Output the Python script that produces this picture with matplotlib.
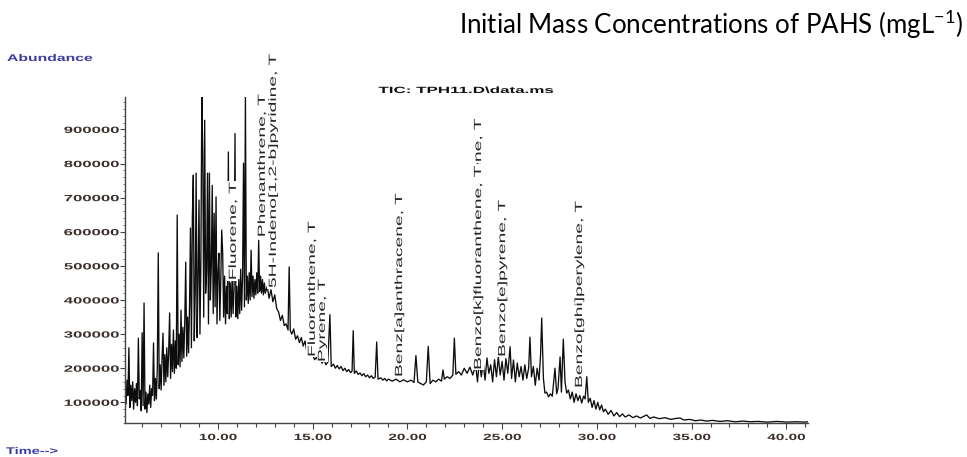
import matplotlib
matplotlib.use('Agg')
import matplotlib.pyplot as plt
from matplotlib.patheffects import AbstractPathEffect
from matplotlib.path import Path
from matplotlib.transforms import Affine2D
from matplotlib.ticker import FixedLocator, MultipleLocator
import numpy as np

# retention time (min) and abundance (x1000 counts)
rt_front = [
    5.10, 5.15, 5.20, 5.25, 5.30, 5.35, 5.40, 5.45, 5.50, 5.55,
    5.60, 5.65, 5.70, 5.75, 5.80, 5.85, 5.90, 5.95, 6.00, 6.05,
    6.10, 6.15, 6.20, 6.25, 6.30, 6.35, 6.40, 6.45, 6.50, 6.55,
    6.60, 6.65, 6.70, 6.75, 6.80, 6.85, 6.90, 6.95, 7.00, 7.05,
    7.10, 7.15, 7.20, 7.25, 7.30, 7.35, 7.40, 7.45, 7.50, 7.55,
    7.60, 7.65, 7.70, 7.75, 7.80, 7.85, 7.90, 7.95, 8.00, 8.05,
    8.10, 8.15, 8.20, 8.25, 8.30, 8.35, 8.40, 8.45, 8.50, 8.55,
    8.60, 8.65, 8.70, 8.75, 8.80, 8.85, 8.90, 8.95, 9.00, 9.05,
    9.10, 9.15, 9.20, 9.25, 9.30, 9.35, 9.40, 9.45, 9.50, 9.55,
    9.60, 9.65, 9.70, 9.75, 9.80, 9.85, 9.90, 9.95, 10.00, 10.05,
    10.10, 10.15, 10.20, 10.25, 10.30, 10.35, 10.40, 10.45, 10.50, 10.55,
    10.60, 10.65, 10.70, 10.75, 10.80, 10.85, 10.90, 10.95, 11.00, 11.05,
    11.10, 11.15, 11.20, 11.25, 11.30, 11.35, 11.40, 11.45, 11.50, 11.55,
    11.60, 11.65, 11.70, 11.75, 11.80, 11.85, 11.90, 11.95, 12.00, 12.05,
    12.10, 12.15, 12.20, 12.25, 12.30, 12.35, 12.40, 12.45, 12.50,
]
ab_front = [
    150, 95, 165, 120, 260, 85, 150, 105, 160, 80,
    140, 100, 155, 90, 288, 110, 135, 75, 304, 90,
    391, 80, 130, 70, 125, 95, 150, 85, 140, 120,
    274, 105, 170, 110, 200, 538, 140, 210, 136, 230,
    303, 150, 240, 160, 260, 175, 250, 362, 170, 270,
    190, 312, 185, 280, 200, 649, 210, 300, 204, 370,
    220, 320, 230, 340, 511, 235, 350, 245, 380, 611,
    260, 644, 766, 280, 420, 772, 290, 460, 693, 300,
    520, 1000, 824, 350, 927, 420, 480, 772, 330, 772,
    400, 500, 736, 360, 654, 380, 702, 330, 480, 537,
    340, 460, 605, 537, 350, 470, 330, 440, 360, 834,
    345, 450, 350, 470, 360, 430, 888, 350, 440, 345,
    460, 360, 490, 370, 470, 801, 380, 1000, 400, 470,
    390, 480, 400, 546, 410, 470, 405, 460, 415, 480,
    420, 575, 425, 470, 420, 460, 415, 450, 420,
]
rt_tail = [
    12.60, 12.70, 12.80, 12.90, 13.00, 13.10, 13.20, 13.30, 13.40, 13.50,
    13.60, 13.70, 13.76, 13.82, 13.90, 14.00, 14.10, 14.20, 14.30, 14.40,
    14.50, 14.60, 14.70, 14.80, 14.90, 15.00, 15.10, 15.20, 15.30, 15.40,
    15.50, 15.60, 15.70, 15.80, 15.91, 15.98, 16.10, 16.20, 16.30, 16.40,
    16.50, 16.60, 16.70, 16.80, 16.90, 17.00, 17.08, 17.14, 17.20, 17.30,
    17.40, 17.50, 17.60, 17.70, 17.80, 17.90, 18.00, 18.10, 18.20, 18.30,
    18.38, 18.45, 18.60, 18.70, 18.80, 18.90, 19.00, 19.20, 19.40, 19.60,
    19.80, 20.00, 20.20, 20.35, 20.45, 20.55, 20.70, 20.85, 21.00, 21.10,
    21.20, 21.35, 21.50, 21.65, 21.80, 21.88, 21.95, 22.10, 22.25, 22.40,
    22.48, 22.56, 22.70, 22.85, 23.00, 23.15, 23.30, 23.45, 23.60, 23.70,
    23.80, 23.90, 24.00, 24.10, 24.20, 24.30, 24.40, 24.50, 24.60, 24.70,
    24.80, 24.90, 25.00, 25.10, 25.20, 25.30, 25.42, 25.50, 25.60, 25.70,
    25.80, 25.90, 26.00, 26.10, 26.20, 26.30, 26.40, 26.47, 26.55, 26.65,
    26.75, 26.85, 26.95, 27.03, 27.09, 27.18, 27.26, 27.35, 27.45, 27.55,
    27.65, 27.79, 27.88, 27.95, 28.06, 28.13, 28.23, 28.32, 28.41, 28.50,
    28.60, 28.70, 28.80, 28.90, 29.00, 29.10, 29.20, 29.30, 29.38, 29.47,
    29.55, 29.65, 29.75, 29.85, 29.95, 30.05, 30.15, 30.25, 30.35, 30.45,
    30.60, 30.75, 30.90, 31.05, 31.20, 31.35, 31.50, 31.70, 31.90, 32.10,
    32.30, 32.63, 32.80, 33.00, 33.30, 33.60, 33.90, 34.20, 34.39, 34.60,
    34.90, 35.20, 35.50, 35.80, 36.10, 36.50, 36.90, 37.30, 37.70, 38.10,
    38.50, 39.00, 39.50, 40.00, 40.50, 41.00, 41.12,
]
ab_tail = [
    440, 405, 430, 395, 415, 375, 365, 340, 355, 325,
    330, 312, 497, 310, 300, 315, 285, 295, 275, 290,
    265, 280, 245, 250, 235, 240, 225, 232, 220, 228,
    215, 225, 210, 218, 357, 205, 212, 200, 208, 198,
    205, 193, 200, 190, 196, 187, 192, 310, 185, 192,
    182, 186, 178, 184, 175, 180, 172, 178, 170, 174,
    277, 168, 172, 165, 170, 163, 168, 162, 168, 160,
    166, 160, 165, 158, 237, 160, 155, 151, 160, 264,
    155, 165, 160, 168, 162, 195, 168, 175, 170, 180,
    288, 182, 190, 180, 200, 185, 203, 180, 210, 160,
    222, 175, 215, 165, 230, 185, 210, 160, 225, 175,
    233, 180, 220, 165, 228, 185, 263, 170, 224, 160,
    215, 175, 205, 165, 210, 170, 200, 291, 175, 205,
    150, 200, 165, 240, 347, 170, 127, 130, 116, 125,
    118, 200, 125, 140, 233, 130, 285, 160, 127, 136,
    110, 130, 100, 125, 105, 120, 98, 118, 110, 175,
    100, 112, 85, 105, 80, 100, 78, 92, 72, 80,
    65, 76, 60, 70, 58, 66, 57, 63, 55, 60,
    54, 63, 53, 57, 52, 55, 50, 53, 54, 48,
    50, 46, 48, 45, 47, 44, 46, 43, 45, 43,
    44, 42, 44, 42, 43, 42, 43,
]

# identified peaks: name, retention time, abundance (x1000) where the label starts
peak_names = ['Fluorene, T', 'Phenanthrene, T', '5H-Indeno[1,2-b]pyridine, T',
              'Fluoranthene, T', 'Pyrene, T', 'Benz[a]anthracene, T',
              'Benzo[b]fluoranthene, T', 'Benzo[k]fluoranthene, T',
              'Benzo[e]pyrene, T', 'Benzo[ghi]perylene, T']
peak_rt = [10.79, 12.32, 12.90, 14.96, 15.49, 19.56, 23.73, 23.73, 25.00, 29.06]
peak_label_at = [458, 584, 435, 233, 218, 174, 330, 195, 233, 142]

x_major = [10, 15, 20, 25, 30, 35, 40]
y_major = [100000, 200000, 300000, 400000, 500000, 600000, 700000, 800000, 900000]


class Stretch(AbstractPathEffect):
    # widens glyphs along the writing direction (fix: 0 start, 0.5 middle, 1 end stays put)
    def __init__(self, sx, fix=0.0, bg=None):
        super().__init__()
        self.sx = sx
        self.fix = fix
        self.bg = bg

    def draw_path(self, renderer, gc, tpath, affine, rgbFace=None):
        ext = tpath.get_extents()
        w = ext.x1 * self.fix
        pre = Affine2D().translate(-w, 0).scale(self.sx, 1).translate(w, 0)
        if self.bg is not None:
            p = 10
            box = Path([(ext.x0 - p, ext.y0 - p), (ext.x1 + p, ext.y0 - p),
                        (ext.x1 + p, ext.y1 + p), (ext.x0 - p, ext.y1 + p),
                        (ext.x0 - p, ext.y0 - p)], closed=True)
            renderer.draw_path(gc, box, pre + affine, self.bg)
        renderer.draw_path(gc, tpath, pre + affine, rgbFace)


plt.rcParams['font.family'] = ['Liberation Sans', 'DejaVu Sans']

rt = np.array(rt_front + rt_tail)
abund = np.array(ab_front + ab_tail) * 1000

W, H = 967, 457
fig = plt.figure(figsize=(W / 100, H / 100), dpi=100)
ax = fig.add_axes([125.3 / W, (H - 423.3) / H, (807.5 - 125.3) / W, (423.3 - 96.7) / H])

ax.plot(rt, abund, color='#0d0d0d', lw=0.95, zorder=2)
ax.set_xlim(5.11, 41.12)
ax.set_ylim(38500, 996000)

for side in ['top', 'right']:
    ax.spines[side].set_visible(False)
for side in ['left', 'bottom']:
    ax.spines[side].set_color('#444444')
    ax.spines[side].set_linewidth(1.0)

ax.xaxis.set_major_locator(FixedLocator(x_major))
ax.xaxis.set_minor_locator(MultipleLocator(1))
ax.yaxis.set_major_locator(FixedLocator(y_major))
ax.yaxis.set_minor_locator(MultipleLocator(20000))
ax.set_xticklabels(['%.2f' % v for v in x_major])
ax.set_yticklabels([str(v) for v in y_major])

ax.tick_params(axis='x', which='major', length=4.5, width=0.8, pad=2.5, color='#444444',
               labelsize=6.5, labelcolor='#3a302c')
ax.tick_params(axis='x', which='minor', length=3, width=0.8, color='#444444')
ax.tick_params(axis='y', which='major', length=3.5, width=0.8, pad=1, color='#444444',
               labelsize=6.5, labelcolor='#3a302c')
ax.tick_params(axis='y', which='minor', length=1.5, width=0.6, color='#666666')

for lbl in ax.get_xticklabels():
    lbl.set_fontweight('bold')
    lbl.set_path_effects([Stretch(1.7, 0.5)])
for lbl in ax.get_yticklabels():
    lbl.set_fontweight('bold')
    lbl.set_path_effects([Stretch(1.85, 1.0)])

# peak annotations, each on a white box that hides the trace behind it
for i, (name, t, v) in enumerate(zip(peak_names, peak_rt, peak_label_at)):
    ax.text(t, v * 1000, name, rotation=90, ha='center', va='bottom', fontsize=7.5,
            color='#262626', zorder=3 + i, path_effects=[Stretch(1.85, 0.0, bg=(1, 1, 1))])

fig.text(7 / W, 1 - 61 / H, 'Abundance', fontsize=7, fontweight='bold', color='#3c3ca0',
         ha='left', va='baseline', path_effects=[Stretch(1.62, 0.0)])
fig.text(6 / W, 1 - 454 / H, 'Time-->', fontsize=7, fontweight='bold', color='#3c3ca0',
         ha='left', va='baseline', path_effects=[Stretch(1.5, 0.0)])
fig.text(466 / W, 1 - 93 / H, 'TIC: TPH11.D\\data.ms', fontsize=6.5, fontweight='bold',
         color='#111111', ha='center', va='baseline', path_effects=[Stretch(1.88, 0.5)])

fig.text(459 / W, 1 - 34 / H, r'Initial Mass Concentrations of PAHS (mgL$\mathregular{^{-1}}$)',
         fontsize=18.6, family='Lato', color='#000000', ha='left', va='baseline')

fig.savefig('out.png', dpi=100, facecolor='white')
